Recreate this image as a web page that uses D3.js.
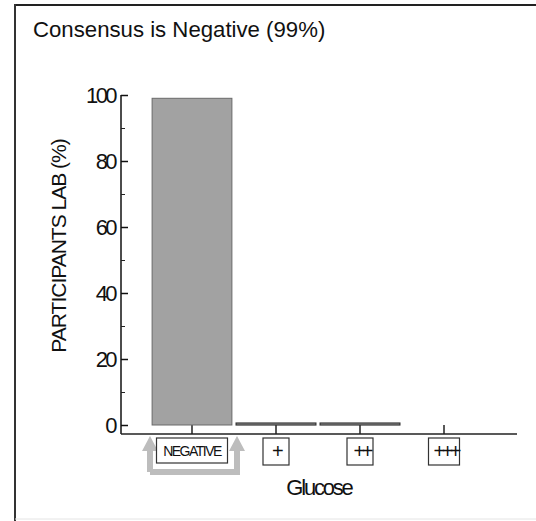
<!DOCTYPE html>
<html><head><meta charset="utf-8">
<script src="https://cdn.jsdelivr.net/npm/d3@7"></script>
<style>body{margin:0;background:#fff}svg{display:block}text{font-family:"Liberation Sans",Arial,sans-serif}</style>
</head><body><svg id="c" width="536" height="521"></svg>
<script>
const categories = ["NEGATIVE", "+", "++", "+++"];
const values = [99, 0.6, 0.6, 0];
const yTicks = [0, 20, 40, 60, 80, 100];
const yMinor = [10, 30, 50, 70, 90];
const title = "Consensus is Negative (99%)";
const yTitle = "PARTICIPANTS LAB (%)";
const xTitle = "Glucose";
const consensus = "NEGATIVE";

const svg = d3.select("#c");
// frame
svg.append("line").attr("x1",15).attr("x2",536).attr("y1",5).attr("y2",5).attr("stroke","#222").attr("stroke-width",2);
svg.append("line").attr("x1",15).attr("x2",15).attr("y1",4).attr("y2",521).attr("stroke","#333").attr("stroke-width",2);
svg.append("line").attr("x1",15).attr("x2",536).attr("y1",519).attr("y2",519).attr("stroke","#e4e4e4").attr("stroke-width",1);

svg.append("text").attr("x",33).attr("y",37).attr("font-size",22.2).attr("fill","#111").text(title);

const y = d3.scaleLinear().domain([0,100]).range([425,95]);
const x = d3.scaleBand().domain(categories).range([150,486]).paddingInner(0.05).paddingOuter(0.025);
const axisX = 121, baseY = 434;

// y axis
const gy = svg.append("g").attr("transform",`translate(${axisX},0)`);
gy.append("line").attr("x1",0).attr("x2",0).attr("y1",y(100)).attr("y2",baseY).attr("stroke","#111").attr("stroke-width",1.5);
const yAx = d3.axisRight(y).tickValues(yTicks).tickSize(7).tickFormat("");
const ga = gy.append("g").call(yAx);
ga.select(".domain").remove();
ga.selectAll("line").attr("stroke","#111").attr("stroke-width",1.5);
const yMinAx = d3.axisRight(y).tickValues(yMinor).tickSize(4).tickFormat("");
const gm = gy.append("g").call(yMinAx);
gm.select(".domain").remove();
gm.selectAll("line").attr("stroke","#222").attr("stroke-width",1);
gy.selectAll(".ylab").data(yTicks).join("text").attr("class","ylab")
  .attr("x",-6).attr("y",d=>y(d)+8).attr("text-anchor","end").attr("font-size",22).attr("letter-spacing",-2.6).attr("fill","#111").text(d=>d);

svg.append("text").attr("transform",`translate(66,246) rotate(-90)`).attr("text-anchor","middle")
  .attr("font-size",21).attr("letter-spacing",-1).attr("fill","#111").text(yTitle);

// x axis
svg.append("line").attr("x1",axisX).attr("x2",517).attr("y1",baseY).attr("y2",baseY).attr("stroke","#222").attr("stroke-width",1.5);
svg.selectAll(".xt").data(categories).join("line").attr("class","xt")
  .attr("x1",d=>x(d)+x.bandwidth()/2).attr("x2",d=>x(d)+x.bandwidth()/2)
  .attr("y1",y(0)).attr("y2",baseY).attr("stroke","#222").attr("stroke-width",1.5);

// bars
const data = categories.map((c,i)=>({c,v:values[i]}));
svg.selectAll(".bar").data(data.filter(d=>d.v>0)).join("rect").attr("class","bar")
  .attr("x",d=>x(d.c)).attr("width",x.bandwidth())
  .attr("y",d=>y(d.v)).attr("height",d=>y(0)-y(d.v))
  .attr("fill","#a2a2a2").attr("stroke",d=>d.v>5?"#6a6a6a":"#333").attr("stroke-width",d=>d.v>5?1:1.2);

// consensus arrows (behind labels)
const cx = x(consensus)+x.bandwidth()/2;
const gA = svg.append("g").attr("fill","#bdbdbd").attr("stroke","#bdbdbd");
const lx = cx-42, rx = cx+45, by = 472;
gA.append("path").attr("d",`M${lx},${by} L${lx},446 M${lx},${by} L${rx},${by} L${rx},446`).attr("fill","none").attr("stroke-width",6);
[lx,rx].forEach(ax=>gA.append("path").attr("d",`M${ax-8},451 L${ax},436 L${ax+8},451 Z`).attr("stroke","none"));

// label boxes
const boxW = {"NEGATIVE":71,"+":26,"++":26,"+++":31};
const gl = svg.selectAll(".lab").data(categories).join("g").attr("class","lab")
  .attr("transform",d=>`translate(${x(d)+x.bandwidth()/2},0)`);
gl.append("rect").attr("x",d=>-boxW[d]/2).attr("y",438).attr("width",d=>boxW[d]).attr("height",d=>d==="NEGATIVE"?25:27)
  .attr("fill","#fff").attr("stroke","#333").attr("stroke-width",1.2);
gl.append("text").attr("y",d=>d==="NEGATIVE"?456:458).attr("text-anchor","middle")
  .attr("font-size",d=>d==="NEGATIVE"?14:20).attr("letter-spacing",d=>d==="NEGATIVE"?-1.5:-3.5)
  .attr("dx",d=>d==="NEGATIVE"?0:(d.length>1?1.75:0))
  .attr("fill","#111").text(d=>d);

svg.append("text").attr("x",319).attr("y",495).attr("text-anchor","middle").attr("font-size",22).attr("letter-spacing",-2.2).attr("fill","#111").text(xTitle);
</script></body></html>
